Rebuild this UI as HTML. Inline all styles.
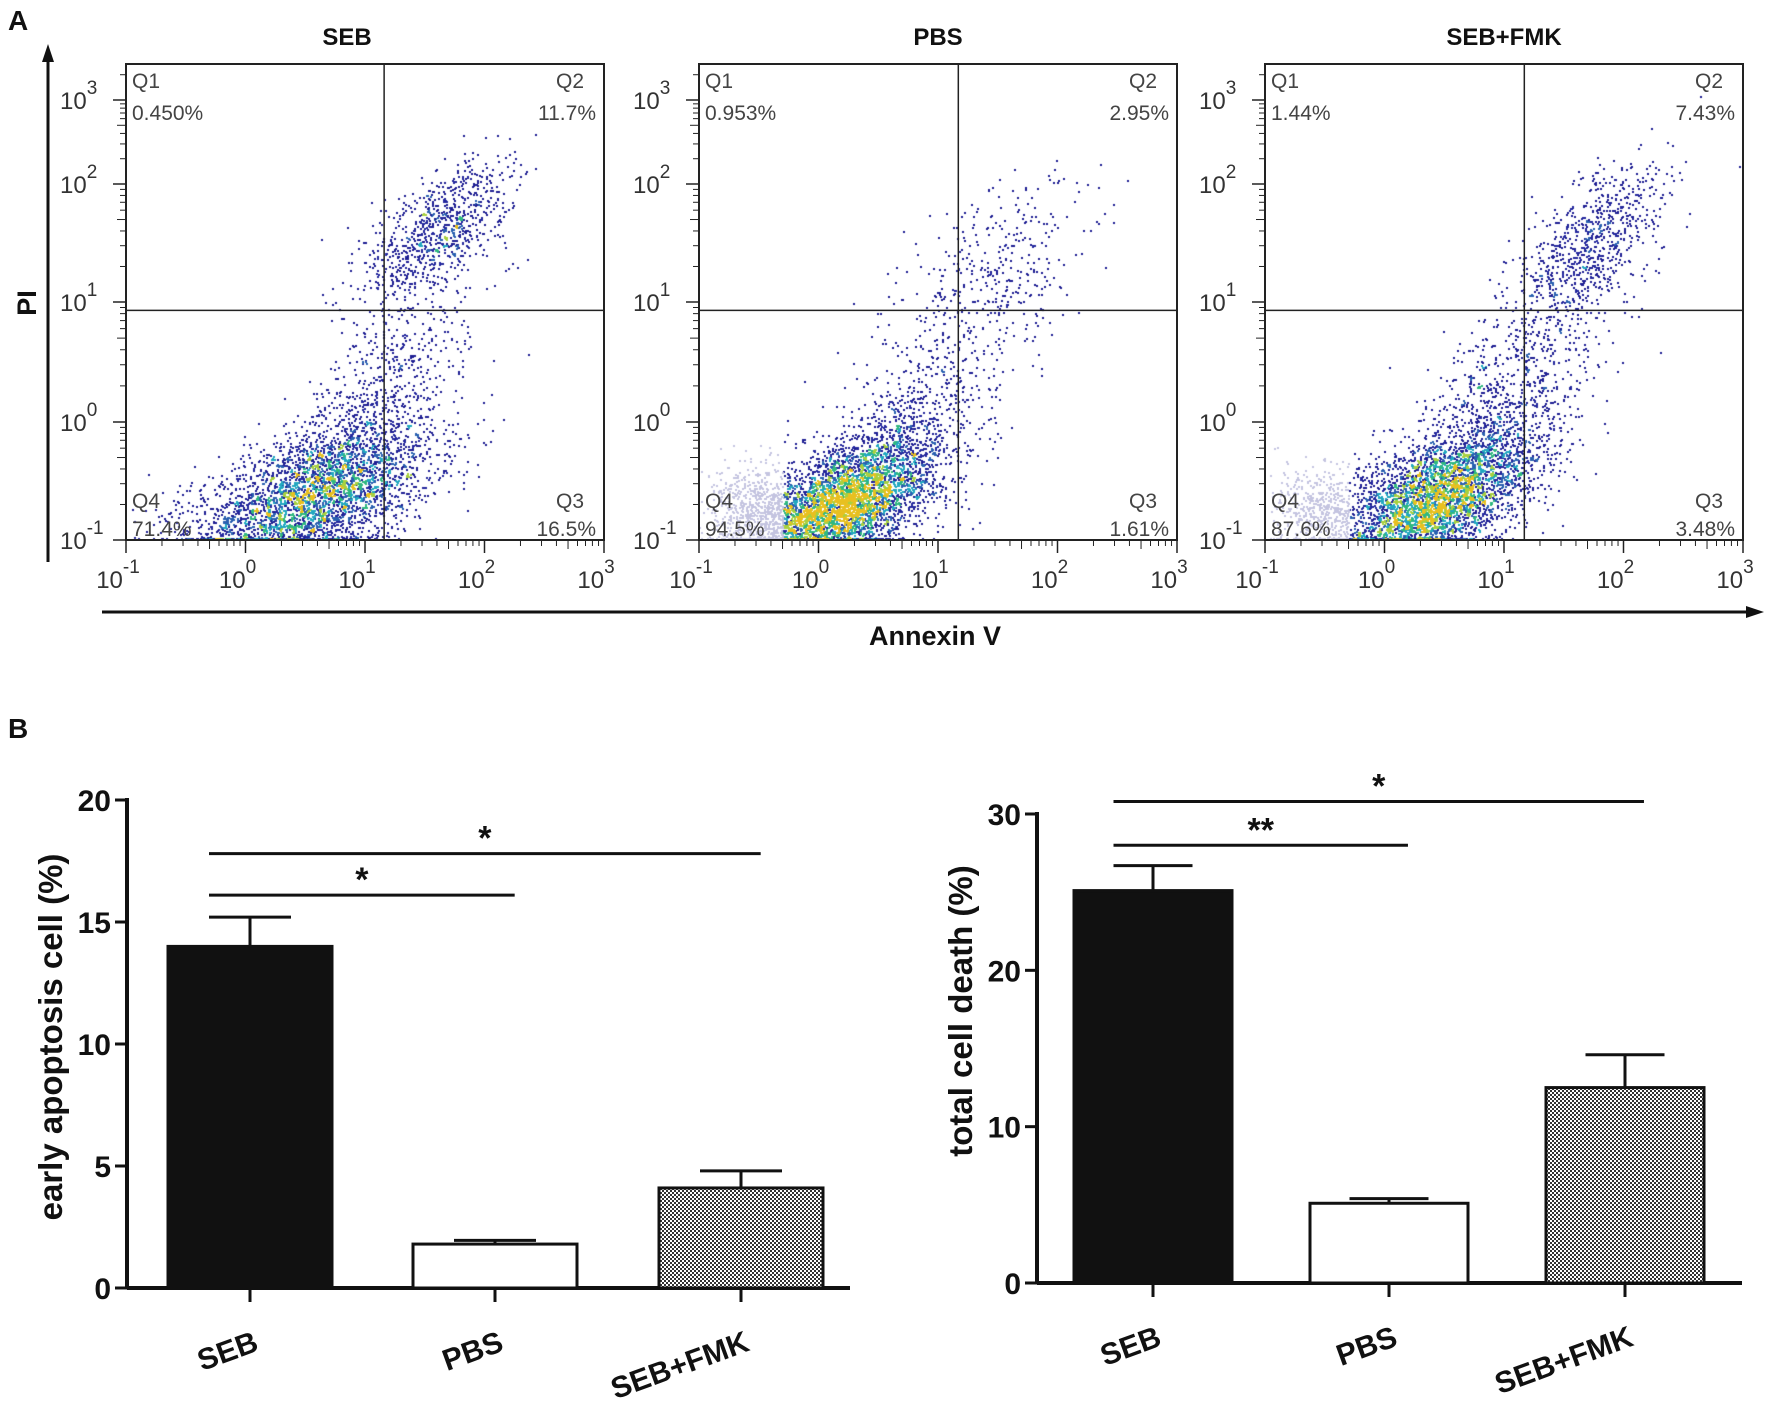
<!DOCTYPE html>
<html><head><meta charset="utf-8">
<style>
html,body{margin:0;padding:0;background:#fff;}
#wrap{position:relative;width:1772px;height:1409px;overflow:hidden;background:#fff;font-family:"Liberation Sans",sans-serif;}
canvas{position:absolute;}
svg{position:absolute;left:0;top:0;}
</style></head>
<body>
<div id="wrap">
<canvas id="c0" width="478" height="476" style="left:126px;top:64px"></canvas>
<canvas id="c1" width="478" height="476" style="left:699px;top:64px"></canvas>
<canvas id="c2" width="478" height="476" style="left:1265px;top:64px"></canvas>
<svg id="svg" width="1772" height="1409"></svg>
</div>
<script>
// ---- Panel A data ----
const flowTitles = ['SEB','PBS','SEB+FMK'];
const q1Values = ['0.450%','0.953%','1.44%'];
const q2Values = ['11.7%','2.95%','7.43%'];
const q3Values = ['16.5%','1.61%','3.48%'];
const q4Values = ['71.4%','94.5%','87.6%'];
const gateX = [1.16, 1.17, 1.17];   // log10 annexin quadrant gate
const gateY = [0.93, 0.93, 0.93];   // log10 PI quadrant gate
// clusters: [meanLogX, meanLogY, sdX, sdY, rho, count]
const sebClusters = [[0.55,-0.65,0.5,0.32,0.55,3600],[1.05,0.1,0.4,0.5,0.7,700],[1.6,1.6,0.3,0.32,0.6,900],[-0.55,-0.8,0.2,0.15,0,40]];
const pbsClusters = [[0.2,-0.7,0.4,0.3,0.6,4500],[0.75,0.0,0.45,0.5,0.7,700],[1.45,1.3,0.4,0.38,0.5,330],[-0.55,-0.75,0.22,0.2,0,600]];
const fmkClusters = [[0.45,-0.65,0.42,0.32,0.6,4200],[1.0,0.25,0.45,0.5,0.7,800],[1.7,1.5,0.3,0.35,0.6,750],[-0.55,-0.75,0.22,0.2,0,500]];
const lowGate = [-9, -0.3, -0.3];
const flowPanelLeft = [126, 699, 1265];
const axisDecades = [-1,0,1,2,3];

// ---- Panel B data ----
const barCategories = ['SEB','PBS','SEB+FMK'];
const earlyValues = [14.0, 1.8, 4.1];
const earlyErrors = [1.2, 0.15, 0.7];
const earlyTicks = [0,5,10,15,20];
const totalValues = [25.1, 5.1, 12.5];
const totalErrors = [1.6, 0.3, 2.1];
const totalTicks = [0,10,20,30];
const earlySig = [[0,1,'*',16.1],[0,2,'*',17.8]];
const totalSig = [[0,1,'**',28.0],[0,2,'*',30.8]];

const NS='http://www.w3.org/2000/svg';
const svg=document.getElementById('svg');
function mk(tag,attrs,parent,name,inter){const e=document.createElementNS(NS,tag);for(const k in attrs)e.setAttribute(k,attrs[k]);


(parent||svg).appendChild(e);return e;}

const W=478,H=476;
function fx(l){return (l+1)*W/4;}
const yDec=[476,358,238,120,36];
function fy(l){ if(l<=-1) return 476; if(l>=3) return 36-(l-3)*84;
  const i=Math.floor(l+1); const t=l+1-i; return yDec[i]+(yDec[i+1]-yDec[i])*t;}

let seed=12345;
function rnd(){seed=(seed*1664525+1013904223)>>>0;return seed/4294967296;}
function gauss(){let u=rnd()||1e-9,v=rnd();return Math.sqrt(-2*Math.log(u))*Math.cos(2*Math.PI*v);}

const allClusters=[sebClusters,pbsClusters,fmkClusters];
function colorFor(c){ if(c<=2) return '#1e1e92'; if(c<=3) return '#24289e'; if(c<=4) return '#2a60b0'; if(c<=5) return '#22a8c0'; if(c<=6) return '#30b880'; if(c<=7) return '#a8d040'; return '#e8c020';}
allClusters.forEach((cl,p)=>{
  const ctx=document.getElementById('c'+p).getContext('2d');
  const pts=[];
  cl.forEach(c=>{for(let i=0;i<c[5];i++){const a=gauss(),b=gauss();const lx=c[0]+c[2]*a;const ly=c[1]+c[3]*(c[4]*a+Math.sqrt(1-c[4]*c[4])*b);
    if(ly<-1.08||lx<-1||lx>3) continue; pts.push([lx,Math.max(ly,-1)]);}});
  const B=4,grid={};
  pts.forEach(q=>{const k=Math.floor(fx(q[0])/B)+','+Math.floor(fy(q[1])/B);grid[k]=(grid[k]||0)+1;});
  pts.forEach(q=>{const X=fx(q[0]),Y=Math.min(fy(q[1]),H-2);const k=Math.floor(X/B)+','+Math.floor(fy(q[1])/B);
    ctx.fillStyle = q[0]<lowGate[p] ? '#c4c4e0' : colorFor(grid[k]);
    ctx.fillRect(Math.round(X),Math.round(Y),2,2);});
});

const top0=64;
flowPanelLeft.forEach((L,p)=>{
  const g=mk('g',{},svg,'flow-panel-'+flowTitles[p].toLowerCase().replace('+','-'),false);
  mk('rect',{x:L,y:top0,width:W,height:H,fill:'none',stroke:'#222','stroke-width':2},g,'plot-frame',false);
  mk('line',{x1:L+fx(gateX[p]),x2:L+fx(gateX[p]),y1:top0,y2:top0+H,stroke:'#222','stroke-width':1.5},g,'quadrant-vertical-gate',true);
  mk('line',{x1:L,x2:L+W,y1:top0+fy(gateY[p]),y2:top0+fy(gateY[p]),stroke:'#222','stroke-width':1.5},g,'quadrant-horizontal-gate',true);
  const t=mk('text',{x:L+W/2-(p==0?18:0),y:45,'text-anchor':'middle','font-size':24,'font-weight':'bold',fill:'#111'},g,'panel-title',false);t.textContent=flowTitles[p];
  const qs=[['Q1',q1Values[p],L+6,'start',top0+24,top0+56],['Q2',q2Values[p],L+W-8,'end',top0+24,top0+56],['Q4',q4Values[p],L+6,'start',top0+H-32,top0+H-4],['Q3',q3Values[p],L+W-8,'end',top0+H-32,top0+H-4]];
  qs.forEach(q=>{const a=mk('text',{x:q[3]=='end'?q[2]-12:q[2],y:q[4],'text-anchor':q[3],'font-size':21,fill:'#444'},g,'quadrant-'+q[0].toLowerCase()+'-label',false);a.textContent=q[0];
    const b=mk('text',{x:q[2],y:q[5],'text-anchor':q[3],'font-size':21,fill:'#444'},g,'quadrant-'+q[0].toLowerCase()+'-percent',false);b.textContent=q[1];});
  axisDecades.forEach(d=>{
    mk('line',{x1:L+fx(d),x2:L+fx(d),y1:top0+H,y2:top0+H+13,stroke:'#222','stroke-width':1.5},g,'x-major-tick',false);
    mk('line',{x1:L-13,x2:L,y1:top0+fy(d),y2:top0+fy(d),stroke:'#222','stroke-width':1.5},g,'y-major-tick',false);
    if(d<3){for(let m=2;m<10;m++){const l=d+Math.log10(m);
      mk('line',{x1:L+fx(l),x2:L+fx(l),y1:top0+H,y2:top0+H+(m==5?9:6),stroke:'#222','stroke-width':1},g,'x-minor-tick',false);
      mk('line',{x1:L-(m==5?9:6),x2:L,y1:top0+fy(l),y2:top0+fy(l),stroke:'#222','stroke-width':1},g,'y-minor-tick',false);}}
    const xl=mk('text',{x:L+fx(d)-8,y:top0+H+48,'text-anchor':'middle','font-size':24,fill:'#333'},g,'x-tick-label',false);
    xl.innerHTML='10<tspan dy="-15" font-size="19">'+d+'</tspan>';
    const yl=mk('text',{x:L-66,y:top0+fy(d)+9,'font-size':24,fill:'#333'},g,'y-tick-label',false);
    yl.innerHTML='10<tspan dy="-15" font-size="19">'+d+'</tspan>';
  });
  for(let m=2;m<10;m++){const l=3+Math.log10(m);const yy=top0+fy(l);if(yy>top0) mk('line',{x1:L-6,x2:L,y1:yy,y2:yy,stroke:'#222','stroke-width':1},g,'y-minor-tick',false);}
});
mk('line',{x1:48,x2:48,y1:562,y2:58,stroke:'#111','stroke-width':3},svg,'pi-axis-arrow-line',false);
mk('polygon',{points:'48,44 42,62 54,62',fill:'#111'},svg,'pi-axis-arrowhead',false);
mk('line',{x1:102,x2:1750,y1:612,y2:612,stroke:'#111','stroke-width':3},svg,'annexin-axis-arrow-line',false);
mk('polygon',{points:'1764,612 1746,606 1746,618',fill:'#111'},svg,'annexin-axis-arrowhead',false);
let tt=mk('text',{x:36,y:303,'text-anchor':'middle','font-size':27,'font-weight':'bold',transform:'rotate(-90 36 303)',fill:'#111'},svg,'pi-axis-title',false);tt.textContent='PI';
tt=mk('text',{x:935,y:645,'text-anchor':'middle','font-size':27,'font-weight':'bold',fill:'#111'},svg,'annexin-axis-title',false);tt.textContent='Annexin V';
tt=mk('text',{x:8,y:30,'font-size':28,'font-weight':'bold',fill:'#111'},svg,'panel-a-label',false);tt.textContent='A';
tt=mk('text',{x:8,y:738,'font-size':28,'font-weight':'bold',fill:'#111'},svg,'panel-b-label',false);tt.textContent='B';

const defs=mk('defs',{},svg,'defs',false);
const pat=mk('pattern',{id:'dots',width:4,height:4,patternUnits:'userSpaceOnUse'},defs,'dot-pattern',false);
mk('rect',{x:0,y:0,width:4,height:4,fill:'#fff'},pat,'pattern-bg',false);
mk('rect',{x:0,y:0,width:2,height:2,fill:'#333'},pat,'pattern-dot',false);
mk('rect',{x:2,y:2,width:2,height:2,fill:'#333'},pat,'pattern-dot',false);

function barChart(o){
  const g=mk('g',{},svg,o.name,false);
  const ys=v=>o.y0-(v/o.max)*(o.y0-o.yTop);
  mk('line',{x1:o.x0,x2:o.x0,y1:o.yTop-2,y2:o.y0,stroke:'#111','stroke-width':4},g,'y-axis',false);
  mk('line',{x1:o.x0,x2:o.xEnd,y1:o.y0,y2:o.y0,stroke:'#111','stroke-width':4},g,'x-axis',false);
  o.ticks.forEach(t=>{mk('line',{x1:o.x0-12,x2:o.x0,y1:ys(t),y2:ys(t),stroke:'#111','stroke-width':3},g,'y-tick',false);
    const l=mk('text',{x:o.x0-16,y:ys(t)+11,'text-anchor':'end','font-size':30,'font-weight':'bold',fill:'#111'},g,'y-tick-label',false);l.textContent=t;});
  const fills=['#111','#fff','url(#dots)'];
  o.vals.forEach((v,i)=>{const cx=o.centers[i];
    const top=ys(v);
    mk('line',{x1:cx,x2:cx,y1:ys(v+o.errs[i]),y2:top,stroke:'#111','stroke-width':3},g,'error-bar-'+barCategories[i].toLowerCase().replace('+','-'),false);
    mk('line',{x1:cx-o.bw/4,x2:cx+o.bw/4,y1:ys(v+o.errs[i]),y2:ys(v+o.errs[i]),stroke:'#111','stroke-width':3},g,'error-cap',false);
    mk('rect',{x:cx-o.bw/2,y:top,width:o.bw,height:o.y0-top,fill:fills[i],stroke:'#111','stroke-width':3},g,'bar-'+barCategories[i].toLowerCase().replace('+','-'),true);
    mk('line',{x1:cx,x2:cx,y1:o.y0,y2:o.y0+14,stroke:'#111','stroke-width':3},g,'x-tick',false);
    const l=mk('text',{x:cx+10,y:o.y0+62,'text-anchor':'end','font-size':30,'font-weight':'bold',fill:'#111',transform:'rotate(-20 '+(cx+10)+' '+(o.y0+62)+')'},g,'x-tick-label',false);l.textContent=barCategories[i];
  });
  o.sig.forEach(s=>{const y=ys(s[3]);const xa=o.centers[s[0]]-o.bw*0.25,xb=o.centers[s[1]]+o.bw*0.12;
    mk('line',{x1:xa,x2:xb,y1:y,y2:y,stroke:'#111','stroke-width':3},g,'significance-line',false);
    const l=mk('text',{x:(xa+xb)/2,y:y-4,'text-anchor':'middle','font-size':34,'font-weight':'bold',fill:'#111'},g,'significance-stars',false);l.textContent=s[2];});
  const yl=mk('text',{x:o.labX,y:o.labY,'text-anchor':'middle','font-size':33,'font-weight':'bold',fill:'#111',transform:'rotate(-90 '+o.labX+' '+o.labY+')'},g,'y-axis-title',false);yl.textContent=o.label;
}
barChart({name:'early-apoptosis-chart',x0:127,xEnd:850,y0:1288,yTop:800,max:20,ticks:earlyTicks,vals:earlyValues,errs:earlyErrors,centers:[250,495,741],bw:164,sig:earlySig,label:'early apoptosis cell (%)',labX:62,labY:1037});
barChart({name:'total-cell-death-chart',x0:1037,xEnd:1742,y0:1283,yTop:814,max:30,ticks:totalTicks,vals:totalValues,errs:totalErrors,centers:[1153,1389,1625],bw:158,sig:totalSig,label:'total cell death (%)',labX:972,labY:1011});
</script>
</body></html>
